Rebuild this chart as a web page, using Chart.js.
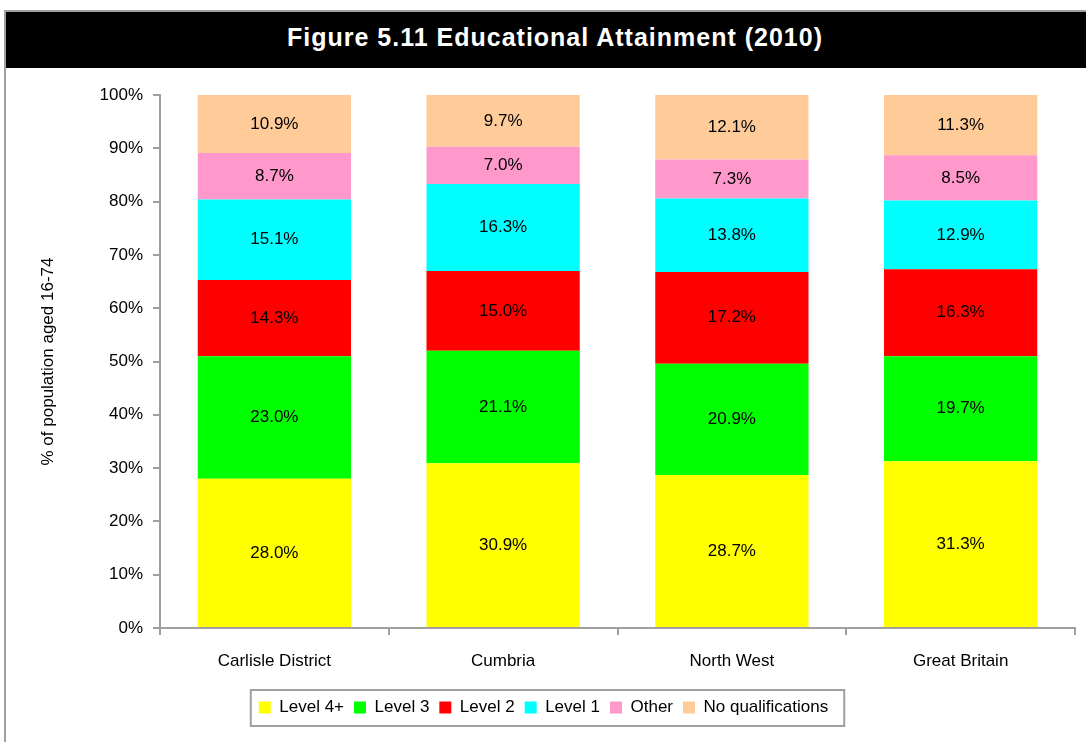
<!DOCTYPE html>
<html>
<head>
<meta charset="utf-8">
<script src="https://cdn.jsdelivr.net/npm/chart.js@4"></script>
<style>
  body { margin: 0; background: #fff; overflow: hidden; font-family: "Liberation Sans", Arial, sans-serif; }
  #frame { position: absolute; left: 4px; top: 10px; width: 1102px; height: 760px; border: 2px solid #a0a0a0; box-sizing: border-box; }
  #head { position: absolute; left: 0; top: 0; right: 0; height: 56px; background: #000; color: #fff;
          font-weight: bold; font-size: 25px; letter-spacing: 1px; line-height: 50px; text-align: center; }
  #wrap { position: absolute; left: 0; top: 67px; width: 1086px; height: 675px; }
</style>
</head>
<body>
<div id="frame"><div id="head">Figure 5.11 Educational Attainment (2010)</div></div>
<div id="wrap"><canvas id="myChart"></canvas></div>
<script>
// categories and series (% of population aged 16-74)
var areas = ['Carlisle District', 'Cumbria', 'North West', 'Great Britain'];
var level4 = [28.0, 30.9, 28.7, 31.3];
var level3 = [23.0, 21.1, 20.9, 19.7];
var level2 = [14.3, 15.0, 17.2, 16.3];
var level1 = [15.1, 16.3, 13.8, 12.9];
var other = [8.7, 7.0, 7.3, 8.5];
var noQuals = [10.9, 9.7, 12.1, 11.3];
var yTicks = [0, 10, 20, 30, 40, 50, 60, 70, 80, 90, 100];

var axisGrey = '#a0a0a0';

// write the value in the middle of each segment
var segmentLabels = {
  id: 'segmentLabels',
  afterDatasetsDraw: function(chart) {
    var ctx = chart.ctx;
    ctx.save();
    ctx.font = '17px "Liberation Sans", Arial, sans-serif';
    ctx.fillStyle = '#000';
    ctx.textAlign = 'center';
    ctx.textBaseline = 'middle';
    chart.data.datasets.forEach(function(ds, i) {
      chart.getDatasetMeta(i).data.forEach(function(bar, j) {
        ctx.fillText(ds.data[j].toFixed(1) + '%', bar.x, (bar.y + bar.base) / 2);
      });
    });
    ctx.restore();
  }
};

// box round the legend
var legendBox = {
  id: 'legendBox',
  afterDraw: function(chart) {
    var boxes = chart.legend.legendHitBoxes;
    if (!boxes.length) return;
    var minX = Infinity, maxX = -Infinity, minY = Infinity, maxY = -Infinity;
    boxes.forEach(function(b) {
      minX = Math.min(minX, b.left); maxX = Math.max(maxX, b.left + b.width);
      minY = Math.min(minY, b.top); maxY = Math.max(maxY, b.top + b.height);
    });
    var ctx = chart.ctx;
    ctx.save();
    ctx.strokeStyle = axisGrey;
    ctx.lineWidth = 2;
    ctx.strokeRect(minX - 8, minY - 9, maxX - minX + 24, maxY - minY + 19);
    ctx.restore();
  }
};

function series(label, data, colour) {
  return { label: label, data: data, backgroundColor: colour, borderWidth: 0 };
}

new Chart(document.getElementById('myChart'), {
  type: 'bar',
  data: {
    labels: areas,
    datasets: [
      series('Level 4+', level4, '#FFFF00'),
      series('Level 3', level3, '#00FF00'),
      series('Level 2', level2, '#FF0000'),
      series('Level 1', level1, '#00FFFF'),
      series('Other', other, '#FF99CC'),
      series('No qualifications', noQuals, '#FFCC99')
    ]
  },
  options: {
    responsive: true,
    maintainAspectRatio: false,
    animation: false,
    layout: { padding: { left: 12, right: 11, top: 28, bottom: 16 } },
    datasets: { bar: { barPercentage: 0.67, categoryPercentage: 1 } },
    font: { family: '"Liberation Sans", Arial, sans-serif', size: 17 },
    scales: {
      x: {
        stacked: true,
        grid: { offset: true, drawOnChartArea: false, color: axisGrey, lineWidth: 2, tickLength: 7 },
        border: { color: axisGrey, width: 2 },
        ticks: { color: '#000', font: { size: 17 }, padding: 16 },
        afterFit: function(s) { s.height = 61; }
      },
      y: {
        stacked: true,
        min: 0,
        max: 100,
        afterBuildTicks: function(s) { s.ticks = yTicks.map(function(v) { return { value: v }; }); },
        grid: { drawOnChartArea: false, color: axisGrey, lineWidth: 2, tickLength: 7 },
        border: { color: axisGrey, width: 2 },
        ticks: { color: '#000', font: { size: 17 }, padding: 10, callback: function(v) { return v + '%'; } },
        title: { display: true, text: '% of population aged 16-74', color: '#000', font: { size: 17 }, padding: { top: 26, bottom: 0 } },
        afterFit: function(s) { s.width = 148; }
      }
    },
    plugins: {
      legend: {
        position: 'bottom',
        labels: { color: '#000', font: { size: 17 }, boxWidth: 12, boxHeight: 12, padding: 10 }
      },
      tooltip: { enabled: false }
    }
  },
  plugins: [segmentLabels, legendBox]
});
</script>
</body>
</html>
